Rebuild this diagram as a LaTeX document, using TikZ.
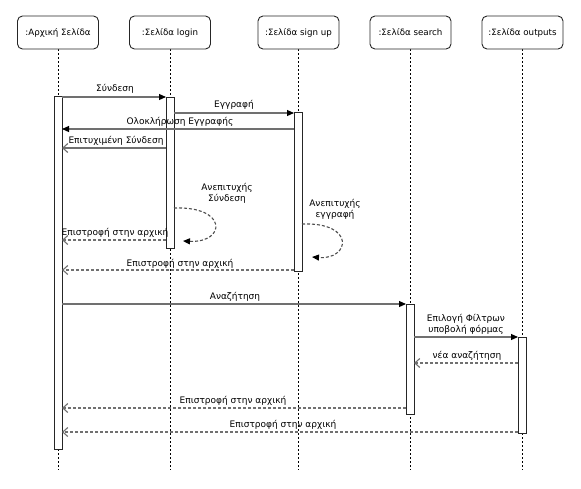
\documentclass[tikz,border=0pt]{standalone}
\usepackage{fontspec}
\setmainfont{DejaVu Sans}
\usetikzlibrary{arrows.meta}
\definecolor{msg}{HTML}{707070}
\tikzset{
  x=1pt,y=-1pt,
  head/.style={draw=black!85,rounded corners=5pt,line width=0.9pt,minimum width=81pt,minimum height=33pt,inner sep=0pt,font=\fontsize{8.7}{10}\selectfont,fill=white},
  life/.style={black,line width=0.9pt,dash pattern=on 2pt off 2pt},
  bar/.style={draw=black!85,fill=white,line width=0.9pt,minimum width=8pt,inner sep=0pt},
  call/.style={msg,line width=1.1pt,-{Triangle[length=7pt,width=6pt,color=black]}},
  rsol/.style={msg,line width=1.1pt,-{Straight Barb[length=5pt,width=9pt]}},
  ret/.style={msg,line width=1.1pt,dash pattern=on 3pt off 2pt,-{Straight Barb[length=5pt,width=9pt]}},
  self/.style={msg!70!black,line width=1.1pt,dash pattern=on 3pt off 2pt,-{Triangle[length=7pt,width=6pt,color=black]}},
  lbl/.style={font=\fontsize{9}{11}\selectfont,inner sep=0pt,align=center}
}
\begin{document}
\begin{tikzpicture}
\useasboundingbox (0,0) rectangle (581,488);
% lifelines
\coordinate (lAe) at (58,470);
\coordinate (lBe) at (170,470);
\coordinate (lCe) at (298,470);
\coordinate (lDe) at (410,470);
\coordinate (lEe) at (522,470);
\draw[life] (58,49) -- (lAe);
\draw[life] (170,49) -- (lBe);
\draw[life] (298,49) -- (lCe);
\draw[life] (410,49) -- (lDe);
\draw[life] (522,49) -- (lEe);
% heads
\node[head] (hA) at (58,32.5) {:Αρχική Σελίδα};
\node[head] (hB) at (170,32.5) {:Σελίδα login};
\node[head] (hC) at (298.5,32.5) {:Σελίδα sign up};
\node[head] (hD) at (410.5,32.5) {:Σελίδα search};
\node[head] (hE) at (522.5,32.5) {:Σελίδα outputs};
% activation bars
\node[bar,minimum height=353pt] (bA) at (58,272.5) {};
\node[bar,minimum height=151pt] (bB) at (170,172.5) {};
\node[bar,minimum height=159pt] (bC) at (298,191.5) {};
\node[bar,minimum height=110pt] (bD) at (410,359) {};
\node[bar,minimum height=96pt] (bE) at (522,385) {};
% endpoints
\coordinate (a97) at (62,97);   \coordinate (b97) at (166,97);
\coordinate (b113) at (174,113); \coordinate (c113) at (294,113);
\coordinate (c129) at (294,129); \coordinate (a129) at (62,129);
\coordinate (b148) at (166,148); \coordinate (a148) at (62,148);
\coordinate (b240) at (166,240); \coordinate (a240) at (62,240);
\coordinate (c270) at (294,270); \coordinate (a270) at (62,270);
\coordinate (a304) at (62,304);  \coordinate (d304) at (406,304);
\coordinate (d337) at (414,337); \coordinate (e337) at (518,337);
\coordinate (e363) at (518,363); \coordinate (d363) at (414,363);
\coordinate (d408) at (406,408); \coordinate (a408) at (62,408);
\coordinate (e432) at (518,432); \coordinate (a432) at (62,432);
\coordinate (s1a) at (174,208);  \coordinate (s1b) at (183,241);
\coordinate (s2a) at (302,224);  \coordinate (s2b) at (312,257);
% messages
\draw[call] (a97) -- (b97);
\node[lbl] (t1) at (115,89) {Σύνδεση};
\draw[call] (b113) -- (c113);
\node[lbl] (t2) at (234,105) {Εγγραφή};
\draw[call] (c129) -- (a129);
\node[lbl] (t3) at (180,122) {Ολοκλήρωση Εγγραφής};
\draw[rsol] (b148) -- (a148);
\node[lbl] (t4) at (116,141) {Επιτυχιμένη Σύνδεση};
\draw[self] (s1a) .. controls (228,206) and (226,243) .. (s1b);
\node[lbl] (t5) at (227,193) {Ανεπιτυχής\\Σύνδεση};
\draw[ret] (b240) -- (a240);
\node[lbl] (t6) at (115,233) {Επιστροφή στην αρχική};
\draw[self] (s2a) .. controls (356,222) and (350,260) .. (s2b);
\node[lbl] (t7) at (335,209) {Ανεπιτυχής\\εγγραφή};
\draw[ret] (c270) -- (a270);
\node[lbl] (t8) at (180,264) {Επιστροφή στην αρχική};
\draw[call] (a304) -- (d304);
\node[lbl] (t9) at (235,297) {Αναζήτηση};
\draw[call] (d337) -- (e337);
\node[lbl] (t10) at (466,324) {Επιλογή Φίλτρων\\υποβολή φόρμας};
\draw[ret] (e363) -- (d363);
\node[lbl] (t11) at (467,356) {νέα αναζήτηση};
\draw[ret] (d408) -- (a408);
\node[lbl] (t12) at (233,401) {Επιστροφή στην αρχική};
\draw[ret] (e432) -- (a432);
\node[lbl] (t13) at (283,425) {Επιστροφή στην αρχική};
\end{tikzpicture}
\end{document}
